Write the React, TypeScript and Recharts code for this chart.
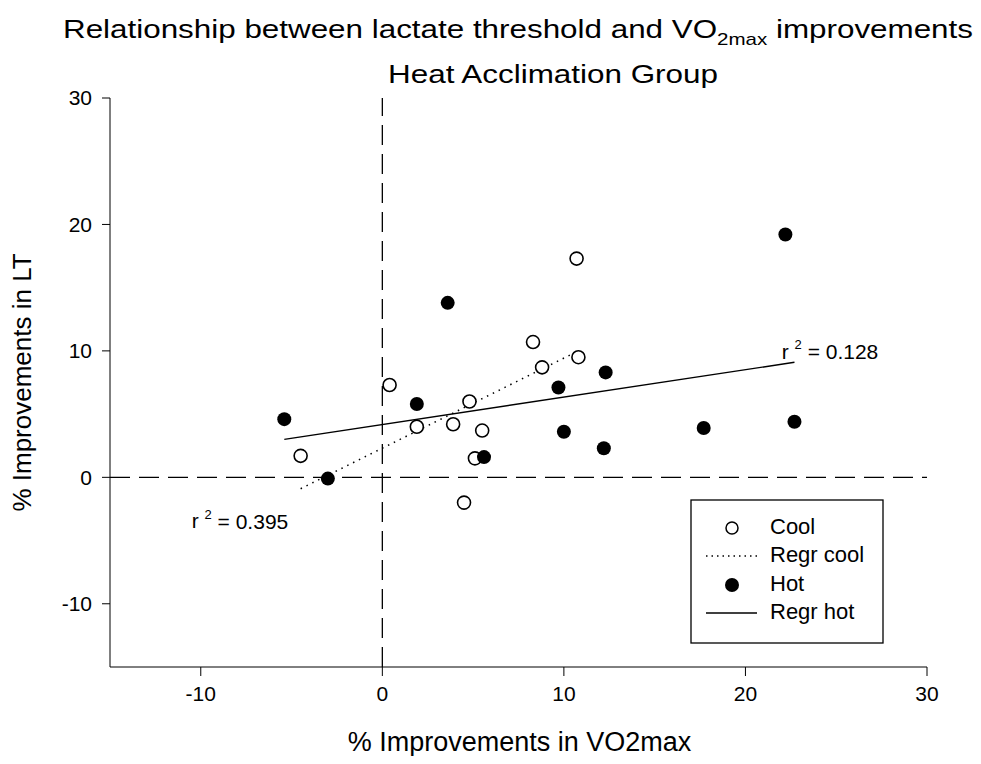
import React from 'react';
import {ScatterChart, Scatter, XAxis, YAxis, ReferenceLine, Legend, Label} from 'recharts';

// % improvement in VO2max (x) and LT (y)
const coolX = [0.4, 4.8, 1.9, 3.9, 5.5, -4.5, 5.1, 4.5, 10.7, 8.3, 10.8, 8.8];
const coolY = [7.3, 6.0, 4.0, 4.2, 3.7, 1.7, 1.5, -2.0, 17.3, 10.7, 9.5, 8.7];
const hotX = [3.6, 1.9, -5.4, 5.6, -3.0, 22.2, 12.3, 9.7, 10.0, 12.2, 17.7, 22.7];
const hotY = [13.8, 5.8, 4.6, 1.6, -0.1, 19.2, 8.3, 7.1, 3.6, 2.3, 3.9, 4.4];

// regression line end points
const regrCoolX = [-4.5, 10.8];
const regrCoolY = [-0.9, 10.0];
const regrHotX = [-5.4, 22.7];
const regrHotY = [3.0, 9.1];

// r² annotations (anchored in data units)
const r2Text = ['0.395', '0.128'];
const r2X = [-10.5, 22.0];
const r2Y = [-3.6, 9.8];

const xTicks = [-10, 0, 10, 20, 30];
const yTicks = [-10, 0, 10, 20, 30];
const legendNames = ['Cool', 'Regr cool', 'Hot', 'Regr hot'];

const zip = (xs: number[], ys: number[]) => xs.map((x, i) => ({x, y: ys[i]}));
const cool = zip(coolX, coolY);
const hot = zip(hotX, hotY);
const regrCool = zip(regrCoolX, regrCoolY);
const regrHot = zip(regrHotX, regrHotY);
const r2 = r2X.map((x, i) => ({x, y: r2Y[i], text: r2Text[i]}));

const FONT = "'Liberation Sans', Arial, Helvetica, sans-serif";

const OpenDot = (p: any) => <circle cx={p.cx} cy={p.cy} r={6.5} fill="#fff" stroke="#000" strokeWidth={1.6}/>;
const FilledDot = (p: any) => <circle cx={p.cx} cy={p.cy} r={7} fill="#000"/>;
const NoDot = () => <g/>;
const R2Label = (p: any) => (
    <text x={p.cx} y={p.cy} dominantBaseline="middle" fontSize={21} fontFamily={FONT} fill="#000">
        r <tspan fontSize={13} dy={-7}>2</tspan><tspan dy={7}> = {p.payload.text}</tspan>
    </text>
);

const LegendBox = () => (
    <svg width={195} height={146} style={{display: 'block'}}>
        <rect x={1} y={1} width={192} height={143} fill="#fff" stroke="#000" strokeWidth={1.3}/>
        <circle cx={42} cy={29} r={6} fill="#fff" stroke="#000" strokeWidth={1.5}/>
        <line x1={16} x2={67} y1={57} y2={57} stroke="#000" strokeWidth={1.3} strokeDasharray="1.5 4"/>
        <circle cx={42} cy={86} r={7} fill="#000"/>
        <line x1={16} x2={67} y1={114} y2={114} stroke="#000" strokeWidth={1.3}/>
        {legendNames.map((n, i) => (
            <text key={n} x={80} y={29 + i * 28.5} dominantBaseline="middle" fontSize={22} fontFamily={FONT}>{n}</text>
        ))}
    </svg>
);

const YLabel = (p: any) => {
    const vb = p.viewBox;
    const cx = vb.x - 14, cy = vb.y + vb.height / 2;
    return <text x={cx} y={cy} transform={`rotate(-90 ${cx} ${cy})`} textAnchor="middle" dominantBaseline="middle"
                 fontSize={26} fontFamily={FONT}>% Improvements in LT</text>;
};
const XLabel = (p: any) => {
    const vb = p.viewBox;
    return <text x={vb.x + vb.width / 2 + 1} y={vb.y + 77} textAnchor="middle" dominantBaseline="middle"
                 fontSize={27} fontFamily={FONT}>% Improvements in VO2max</text>;
};

export default function App() {
    return <div style={{position: 'relative', width: 965, height: 748}}>
        <svg width={965} height={90} style={{position: 'absolute', left: 0, top: 0}}>
            <text x={55} y={30} fontSize={26} fontFamily={FONT} textLength={910} lengthAdjust="spacingAndGlyphs">
                Relationship between lactate threshold and VO<tspan fontSize={17} dy={7}>2max</tspan><tspan dy={-7}> improvements</tspan>
            </text>
            <text x={380} y={75} fontSize={26} fontFamily={FONT} textLength={330} lengthAdjust="spacingAndGlyphs">Heat Acclimation Group</text>
        </svg>
        <ScatterChart width={965} height={748} margin={{top: 90, right: 46, bottom: 29, left: 30}}>
            <XAxis type="number" dataKey="x" domain={[-15, 30]} ticks={xTicks} allowDataOverflow
                   stroke="#000" tickSize={9} tickMargin={10} height={60}
                   tick={{fill: '#000', fontSize: 21, fontFamily: FONT}}>
                <Label content={XLabel}/>
            </XAxis>
            <YAxis type="number" dataKey="y" domain={[-15, 30]} ticks={yTicks} allowDataOverflow
                   stroke="#000" tickSize={8} tickMargin={10} width={72}
                   tick={{fill: '#000', fontSize: 21, fontFamily: FONT}}>
                <Label content={YLabel}/>
            </YAxis>
            <ReferenceLine x={0} stroke="#000" strokeWidth={1.3} strokeDasharray="20 9"/>
            <ReferenceLine y={0} stroke="#000" strokeWidth={1.3} strokeDasharray="20 9"/>
            <Scatter data={regrCool} shape={NoDot} line={{stroke: '#000', strokeWidth: 1.5, strokeDasharray: '1.5 5'}}
                     isAnimationActive={false}/>
            <Scatter data={regrHot} shape={NoDot} line={{stroke: '#000', strokeWidth: 1.4}} isAnimationActive={false}/>
            <Scatter data={cool} shape={OpenDot} isAnimationActive={false}/>
            <Scatter data={hot} shape={FilledDot} isAnimationActive={false}/>
            <Scatter data={r2} shape={R2Label} isAnimationActive={false}/>
            <Legend layout="vertical" align="center" verticalAlign="middle" content={LegendBox}
                    wrapperStyle={{left: 682, top: 491, width: 195, height: 146}}/>
        </ScatterChart>
    </div>;
}
